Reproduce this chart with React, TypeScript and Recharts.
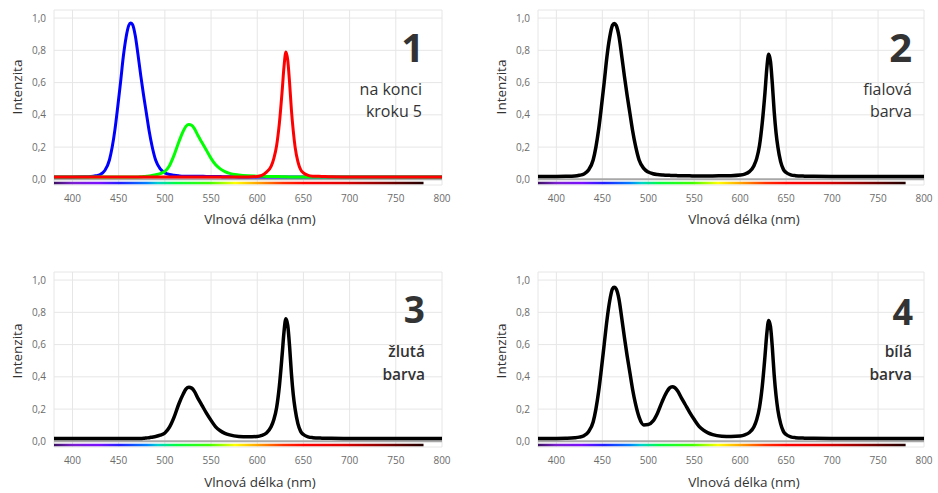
import React from 'react';
import { LineChart, Line, XAxis, YAxis, CartesianGrid, ReferenceLine, ReferenceArea } from 'recharts';

const wavelengths = [380, 390, 400, 410, 420, 425, 430, 435, 440, 443, 446, 449, 452, 455, 458, 461, 463, 465, 468, 471, 474, 477, 480, 483, 486, 490, 495, 500, 505, 510, 515, 520, 523, 526, 529, 532, 536, 540, 545, 550, 555, 560, 565, 570, 580, 590, 600, 605, 610, 615, 618, 621, 624, 627, 629, 631, 633, 635, 637, 639, 641, 644, 647, 650, 655, 660, 670, 680, 700, 720, 740, 760, 780, 800];

const blueLed = [0.015, 0.015, 0.015, 0.016, 0.018, 0.022, 0.03, 0.055, 0.12, 0.2, 0.31, 0.45, 0.6, 0.76, 0.88, 0.955, 0.97, 0.96, 0.89, 0.77, 0.64, 0.52, 0.41, 0.3, 0.21, 0.12, 0.065, 0.04, 0.03, 0.025, 0.022, 0.02, 0.02, 0.02, 0.02, 0.02, 0.02, 0.019, 0.018, 0.018, 0.017, 0.017, 0.016, 0.016, 0.015, 0.015, 0.015, 0.015, 0.015, 0.015, 0.015, 0.015, 0.015, 0.015, 0.015, 0.015, 0.015, 0.015, 0.015, 0.015, 0.015, 0.015, 0.015, 0.015, 0.015, 0.015, 0.015, 0.015, 0.015, 0.015, 0.015, 0.015, 0.015, 0.015];

const greenLed = [0.015, 0.015, 0.015, 0.015, 0.015, 0.015, 0.015, 0.015, 0.015, 0.015, 0.015, 0.015, 0.015, 0.015, 0.015, 0.015, 0.015, 0.015, 0.015, 0.015, 0.016, 0.017, 0.019, 0.021, 0.024, 0.028, 0.036, 0.05, 0.085, 0.15, 0.23, 0.3, 0.33, 0.34, 0.335, 0.315, 0.27, 0.23, 0.18, 0.13, 0.09, 0.065, 0.048, 0.037, 0.027, 0.022, 0.02, 0.019, 0.018, 0.018, 0.017, 0.017, 0.017, 0.016, 0.016, 0.016, 0.015, 0.015, 0.015, 0.015, 0.015, 0.015, 0.015, 0.015, 0.015, 0.015, 0.015, 0.015, 0.015, 0.015, 0.015, 0.015, 0.015, 0.015];

const redLed = [0.015, 0.015, 0.015, 0.015, 0.015, 0.015, 0.015, 0.015, 0.015, 0.015, 0.015, 0.015, 0.015, 0.015, 0.015, 0.015, 0.015, 0.015, 0.015, 0.015, 0.015, 0.015, 0.015, 0.015, 0.015, 0.015, 0.015, 0.015, 0.015, 0.015, 0.015, 0.015, 0.015, 0.015, 0.015, 0.015, 0.015, 0.015, 0.015, 0.015, 0.015, 0.015, 0.015, 0.015, 0.015, 0.015, 0.018, 0.025, 0.045, 0.08, 0.13, 0.21, 0.35, 0.55, 0.7, 0.79, 0.74, 0.6, 0.43, 0.3, 0.2, 0.11, 0.06, 0.04, 0.025, 0.02, 0.018, 0.016, 0.015, 0.015, 0.015, 0.015, 0.015, 0.015];

const violetMix = [0.018, 0.018, 0.018, 0.019, 0.021, 0.025, 0.033, 0.058, 0.12, 0.2, 0.31, 0.45, 0.6, 0.76, 0.88, 0.955, 0.967, 0.955, 0.89, 0.77, 0.64, 0.52, 0.41, 0.3, 0.21, 0.12, 0.068, 0.045, 0.035, 0.03, 0.027, 0.025, 0.025, 0.024, 0.024, 0.023, 0.023, 0.022, 0.022, 0.021, 0.021, 0.021, 0.021, 0.021, 0.022, 0.023, 0.027, 0.033, 0.048, 0.085, 0.13, 0.21, 0.35, 0.54, 0.69, 0.775, 0.73, 0.59, 0.42, 0.29, 0.2, 0.11, 0.062, 0.042, 0.028, 0.023, 0.02, 0.019, 0.018, 0.018, 0.018, 0.018, 0.018, 0.018];

const yellowMix = [0.017, 0.017, 0.017, 0.017, 0.017, 0.017, 0.017, 0.017, 0.017, 0.017, 0.017, 0.017, 0.017, 0.017, 0.017, 0.017, 0.017, 0.017, 0.017, 0.017, 0.018, 0.019, 0.021, 0.023, 0.026, 0.03, 0.038, 0.052, 0.088, 0.15, 0.23, 0.295, 0.325, 0.335, 0.33, 0.31, 0.265, 0.225, 0.175, 0.13, 0.09, 0.066, 0.05, 0.04, 0.03, 0.028, 0.03, 0.037, 0.052, 0.09, 0.135, 0.21, 0.345, 0.54, 0.68, 0.76, 0.72, 0.59, 0.42, 0.29, 0.2, 0.11, 0.062, 0.042, 0.028, 0.023, 0.02, 0.019, 0.018, 0.018, 0.018, 0.018, 0.017, 0.017];

const whiteMix = [0.018, 0.018, 0.018, 0.019, 0.022, 0.026, 0.035, 0.06, 0.12, 0.2, 0.31, 0.45, 0.6, 0.75, 0.87, 0.945, 0.955, 0.945, 0.885, 0.77, 0.645, 0.53, 0.425, 0.32, 0.235, 0.15, 0.102, 0.104, 0.125, 0.175, 0.245, 0.305, 0.33, 0.338, 0.332, 0.312, 0.27, 0.23, 0.18, 0.135, 0.095, 0.07, 0.053, 0.042, 0.032, 0.03, 0.033, 0.04, 0.055, 0.09, 0.135, 0.21, 0.34, 0.53, 0.67, 0.75, 0.71, 0.58, 0.41, 0.285, 0.195, 0.11, 0.062, 0.042, 0.028, 0.023, 0.02, 0.019, 0.018, 0.018, 0.018, 0.018, 0.017, 0.017];

const xTicks = [400, 450, 500, 550, 600, 650, 700, 750, 800];
const yTicks = [0, 0.2, 0.4, 0.6, 0.8, 1.0];

const rows = wavelengths.map((w, i) => ({
  w,
  blue: blueLed[i],
  green: greenLed[i],
  red: redLed[i],
  violet: violetMix[i],
  yellow: yellowMix[i],
  white: whiteMix[i],
}));

const FONT = "'Open Sans', 'Noto Sans', sans-serif";
const fmtY = (v: number) => v.toFixed(1).replace('.', ',');

type SeriesDef = { key: string; color: string; width: number };

const panels: {
  left: number; top: number; right: number;
  series: SeriesDef[];
}[] = [
  { left: 0, top: 0, right: 18, series: [
    { key: 'blue', color: '#0000ff', width: 3 },
    { key: 'green', color: '#00ff00', width: 3 },
    { key: 'red', color: '#ff0000', width: 3 },
  ] },
  { left: 484, top: 0, right: 20, series: [{ key: 'violet', color: '#000000', width: 3.5 }] },
  { left: 0, top: 262, right: 18, series: [{ key: 'yellow', color: '#000000', width: 3.5 }] },
  { left: 484, top: 262, right: 20, series: [{ key: 'white', color: '#000000', width: 3.5 }] },
];

const labels = [
  { num: '1', numX: 424, numY: 62, numSize: 40, lines: ['na konci', 'kroku 5'], lx: 422, ly: [94.5, 117], ls: 16, lw: 400, tx: 260, ty: 224, yx: 17, yy: 87 },
  { num: '2', numX: 912, numY: 62, numSize: 40, lines: ['fialová', 'barva'], lx: 912, ly: [94.5, 117], ls: 16, lw: 400, tx: 744, ty: 224, yx: 501, yy: 87 },
  { num: '3', numX: 425, numY: 323, numSize: 37, lines: ['žlutá', 'barva'], lx: 425, ly: [357, 380], ls: 15.5, lw: 600, tx: 260, ty: 487, yx: 17, yy: 351 },
  { num: '4', numX: 913, numY: 325, numSize: 36, lines: ['bílá', 'barva'], lx: 912, ly: [357, 380], ls: 15.5, lw: 600, tx: 744, ty: 487, yx: 501, yy: 351 },
];

function Panel({ p }: { p: typeof panels[number] }) {
  return (
    <div style={{ position: 'absolute', left: p.left, top: p.top }}>
      <LineChart width={460} height={240} data={rows} margin={{ top: 10, right: p.right, bottom: 0, left: 14 }}>
        <CartesianGrid stroke="#e6e6e6" strokeWidth={1} />
        <XAxis
          type="number"
          dataKey="w"
          domain={[380, 800]}
          ticks={xTicks}
          allowDataOverflow
          axisLine={false}
          tickLine={false}
          height={55}
          tickMargin={4}
          tick={{ fill: '#6b6b6b', fontSize: 10 }}
        />
        <YAxis
          type="number"
          domain={[-0.035, 1.05]}
          ticks={yTicks}
          allowDataOverflow
          axisLine={false}
          tickLine={false}
          width={40}
          tickFormatter={fmtY}
          tick={{ fill: '#6b6b6b', fontSize: 10 }}
        />
        <ReferenceArea x1={380} x2={780} y1={-0.031} y2={-0.015} fill="url(#spectrumGrad)" fillOpacity={1} stroke="none" />
        <ReferenceLine y={0} stroke="#a8a8a8" strokeWidth={2} />
        {p.series.map((s) => (
          <Line
            key={s.key}
            type="monotone"
            dataKey={s.key}
            stroke={s.color}
            strokeWidth={s.width}
            dot={false}
            isAnimationActive={false}
          />
        ))}
      </LineChart>
    </div>
  );
}

export default function App() {
  return (
    <div style={{ position: 'absolute', left: 0, top: 0, width: 938, height: 493, background: '#fff', fontFamily: FONT, overflow: 'hidden' }}>
      <svg width={0} height={0} style={{ position: 'absolute' }}>
        <defs>
          <linearGradient id="spectrumGrad" x1="0" y1="0" x2="1" y2="0">
            <stop offset="0" stopColor="#3b1260" />
            <stop offset="0.05" stopColor="#7a1fd0" />
            <stop offset="0.12" stopColor="#7b10ff" />
            <stop offset="0.18" stopColor="#1f1fff" />
            <stop offset="0.25" stopColor="#0080ff" />
            <stop offset="0.28" stopColor="#00d0d0" />
            <stop offset="0.33" stopColor="#00ff40" />
            <stop offset="0.42" stopColor="#40ff00" />
            <stop offset="0.49" stopColor="#ffff00" />
            <stop offset="0.55" stopColor="#ffa500" />
            <stop offset="0.62" stopColor="#ff3000" />
            <stop offset="0.68" stopColor="#ff0000" />
            <stop offset="0.78" stopColor="#e00000" />
            <stop offset="0.88" stopColor="#900000" />
            <stop offset="1" stopColor="#200000" />
          </linearGradient>
        </defs>
      </svg>
      {panels.map((p, i) => (
        <Panel key={i} p={p} />
      ))}
      <svg width={938} height={493} style={{ position: 'absolute', left: 0, top: 0, pointerEvents: 'none' }} fontFamily={FONT}>
        {labels.map((l, i) => (
          <g key={i}>
            <text x={l.numX} y={l.numY} textAnchor="end" fontSize={l.numSize} fontWeight={700} fill="#333">{l.num}</text>
            {l.lines.map((t, j) => (
              <text key={j} x={l.lx} y={l.ly[j]} textAnchor="end" fontSize={l.ls} fontWeight={l.lw} fill="#333">{t}</text>
            ))}
            <text x={l.tx} y={l.ty} textAnchor="middle" fontSize={13.5} fill="#333">Vlnová délka (nm)</text>
            <text x={l.yx} y={l.yy} textAnchor="middle" dominantBaseline="central" fontSize={13.5} fill="#333" transform={`rotate(-90 ${l.yx} ${l.yy})`}>Intenzita</text>
          </g>
        ))}
      </svg>
    </div>
  );
}
